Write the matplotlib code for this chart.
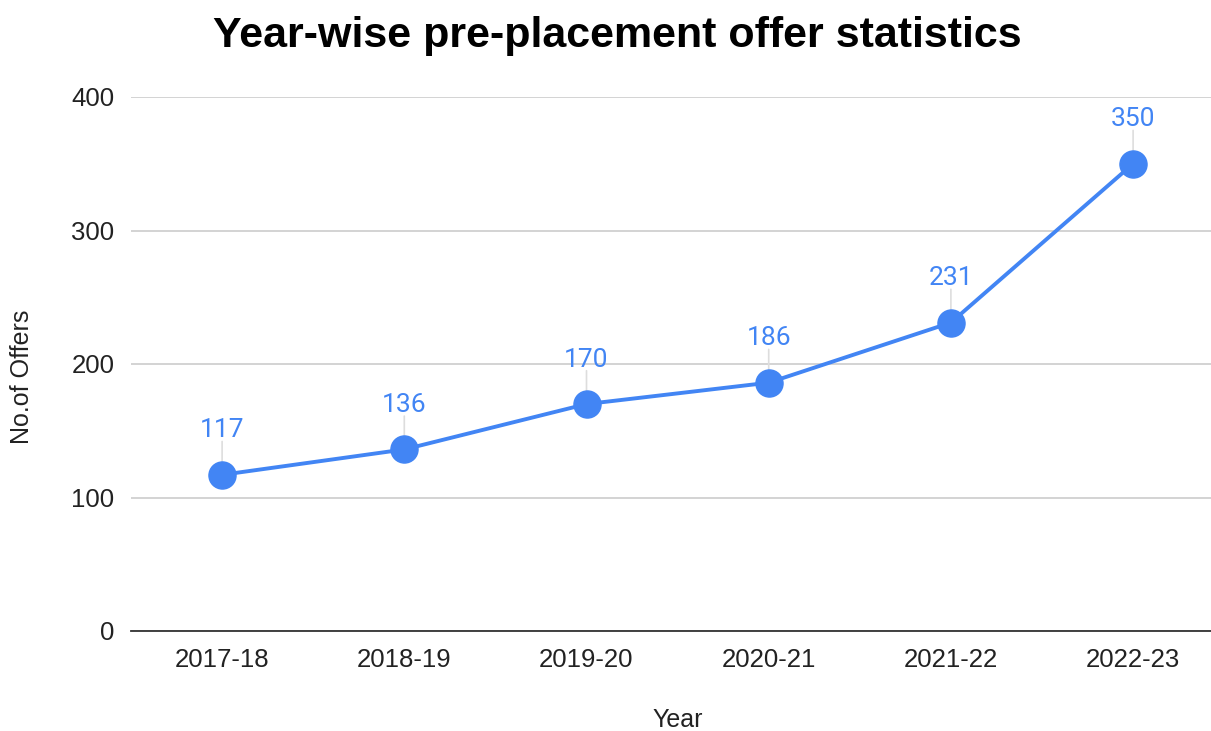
import matplotlib
matplotlib.use("Agg")
import matplotlib.pyplot as plt

years = ["2017-18", "2018-19", "2019-20", "2020-21", "2021-22", "2022-23"]
offers = [117, 136, 170, 186, 231, 350]
yticks = [0, 100, 200, 300, 400]

plt.rcParams['font.family'] = ['Liberation Sans', 'DejaVu Sans']
blue = "#4285F4"

fig = plt.figure(figsize=(12.11, 7.31), dpi=100)
W, H = 1211, 731
ax = fig.add_axes([131 / W, 1 - 631 / H, (1211 - 131) / W, (631 - 97) / H])

x = list(range(len(years)))
ax.plot(x, offers, color=blue, lw=2.8, marker='o', markersize=19.5, zorder=3, clip_on=False)

for xi, v in zip(x, offers):
    ax.annotate("", xy=(xi, v), xytext=(0, 24), textcoords='offset points',
                arrowprops=dict(arrowstyle='-', color='#dddddd', lw=1.2, shrinkA=0, shrinkB=9),
                zorder=2)
    ax.annotate(str(v), xy=(xi, v), xytext=(0, 32), textcoords='offset points',
                ha='center', va='center', color=blue, fontsize=19,
                family=['Roboto', 'DejaVu Sans'])

ax.set_xlim(-0.5, (1211 - 131) / 182.2 - 0.5)
ax.set_ylim(0, 400)
ax.set_yticks(yticks)
ax.set_yticklabels([str(t) for t in yticks])
ax.set_xticks(x)
ax.set_xticklabels(years)
ax.tick_params(axis='both', length=0, labelsize=18.5, colors='#222222')
ax.tick_params(axis='x', pad=12)
ax.tick_params(axis='y', pad=12)
ax.grid(axis='y', color='#cccccc', lw=1.2)
ax.set_axisbelow(True)
for s in ['top', 'right', 'left']:
    ax.spines[s].set_visible(False)
ax.spines['bottom'].set_color('#333333')
ax.spines['bottom'].set_linewidth(1.3)

fig.text(678 / W, 1 - 720 / H, "Year", ha='center', va='center', fontsize=18, color='#222222')
fig.text(22 / W, 1 - 377 / H, "No.of Offers", ha='center', va='center', rotation=90, fontsize=18, color='#222222')
fig.text(617 / W, 1 - 36 / H, "Year-wise pre-placement offer statistics", ha='center', va='center',
         fontsize=31, fontweight='bold', color='#000000')

fig.savefig("out.png", dpi=100, facecolor='white')
